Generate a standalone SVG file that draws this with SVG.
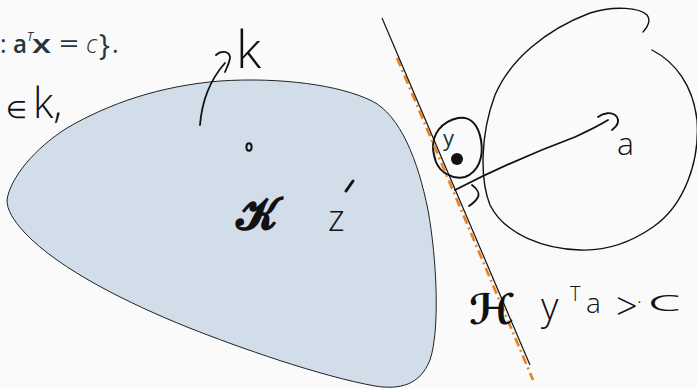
<svg xmlns="http://www.w3.org/2000/svg" width="697" height="388" viewBox="0 0 697 388">
  <style>
    .ink { fill: none; stroke: #111; stroke-linecap: round; stroke-linejoin: round; }
    .hand { font-family: "Open Sans", "DejaVu Sans", sans-serif; font-weight: 300; fill: #111; }
    .tex { font-family: "Open Sans", "DejaVu Sans", sans-serif; fill: #23373b; }
    .cal { font-family: "DejaVu Serif", "DejaVu Sans", serif; font-weight: bold; fill: #111; }
  </style>
  <rect x="0" y="0" width="697" height="388" fill="#fafafa"/>

  <g id="title">
    <text class="tex" y="53" font-size="25">
      <tspan x="0">:</tspan>
      <tspan x="13" font-weight="600" textLength="14" lengthAdjust="spacingAndGlyphs">a</tspan>
      <tspan x="27" y="41" font-size="12" font-style="italic">T</tspan>
      <tspan x="32" y="53" font-weight="600" textLength="19" lengthAdjust="spacingAndGlyphs">x</tspan>
      <tspan x="59" textLength="20" lengthAdjust="spacingAndGlyphs">=</tspan>
      <tspan x="86" font-style="italic" font-weight="300">c</tspan>
      <tspan x="99" y="55" font-size="29">}</tspan>
      <tspan x="112" y="53">.</tspan>
    </text>
  </g>

  <g id="set-K">
    <path d="M7,200 C10,178 35,148 67,128 C110,103 160,86 220,81 C280,77 340,85 372,101 C400,115 418,160 428,210 C437,260 440,330 430,360 C420,385 400,390 375,386 C320,376 240,348 187,327 C130,304 60,270 25,233 C13,220 7,210 7,200 Z" fill="#d1dde9" stroke="#222" stroke-width="1"/>
    <text class="cal" x="236" y="229" font-size="44">𝓚</text>
    <ellipse cx="249" cy="147" rx="2.6" ry="3.8" fill="none" stroke="#111" stroke-width="2"/>
    <text class="hand" x="328" y="231" font-size="36">z</text>
    <path class="ink" d="M346,191 L353,181" stroke-width="3"/>
  </g>

  <g id="label-k">
    <text class="hand" x="236" y="68" font-size="52">k</text>
    <path class="ink" d="M200,125 C202,100 210,80 225,63" stroke-width="1.8"/>
    <path class="ink" d="M216,55 C221,50 229,51 230,57 C230,62 227,67 225,72" stroke-width="1.8"/>
  </g>

  <g id="label-in-k">
    <text class="hand" y="118">
      <tspan x="6" font-size="24">∈</tspan>
      <tspan x="33" font-size="42">k,</tspan>
    </text>
  </g>

  <g id="ball">
    <path class="ink" stroke-width="1.4" d="M652,50 C675,62 693,85 697,120 C700,160 685,205 653,227 C630,243 605,251 580,250 C545,249 505,235 490,205 C480,180 480,135 495,95 C510,60 545,30 590,13 C615,5 640,8 647,15 C651,20 648,27 643,32"/>
    <text class="hand" x="617" y="155" font-size="32">a</text>
  </g>

  <g id="point-y">
    <path class="ink" stroke-width="2" d="M433,147 C433,135 440,122 458,118 C470,116 478,124 481,140 C484,158 478,172 465,177 C452,180 440,172 436,162 C434,156 433,152 433,147 Z"/>
    <text class="tex" x="443" y="146" font-size="22">y</text>
    <circle cx="457" cy="159" r="6" fill="#111"/>
  </g>

  <g id="connectors">
    <line x1="397" y1="58" x2="533" y2="380" stroke="#eb811b" stroke-width="2.6" stroke-dasharray="9 4 2 4"/>
    <line x1="382" y1="18" x2="530" y2="365" stroke="#111" stroke-width="1.2"/>
    <path class="ink" stroke-width="1.8" d="M455,190 C490,172 540,150 575,137 C590,130 600,125 608,120"/>
    <path class="ink" stroke-width="1.8" d="M598,117 C603,113 612,111 617,117 C620,122 616,127 612,130"/>
    <path class="ink" stroke-width="1.8" d="M472,185 C476,188 480,193 478,197 C476,201 472,204 469,206"/>
  </g>

  <g id="label-H">
    <text class="cal" x="469" y="324" font-size="42">ℋ</text>
    <text class="hand" y="320">
      <tspan x="541" font-size="38">y</tspan>
      <tspan x="570" y="301" font-size="20">T</tspan>
      <tspan x="586" y="313" font-size="28">a</tspan>
      <tspan x="616" y="320" font-size="38">&gt;</tspan>
      <tspan x="637" y="309" font-size="20">·</tspan>
      <tspan x="647" y="311" font-size="30" textLength="34" lengthAdjust="spacingAndGlyphs">c</tspan>
    </text>
  </g>
</svg>
